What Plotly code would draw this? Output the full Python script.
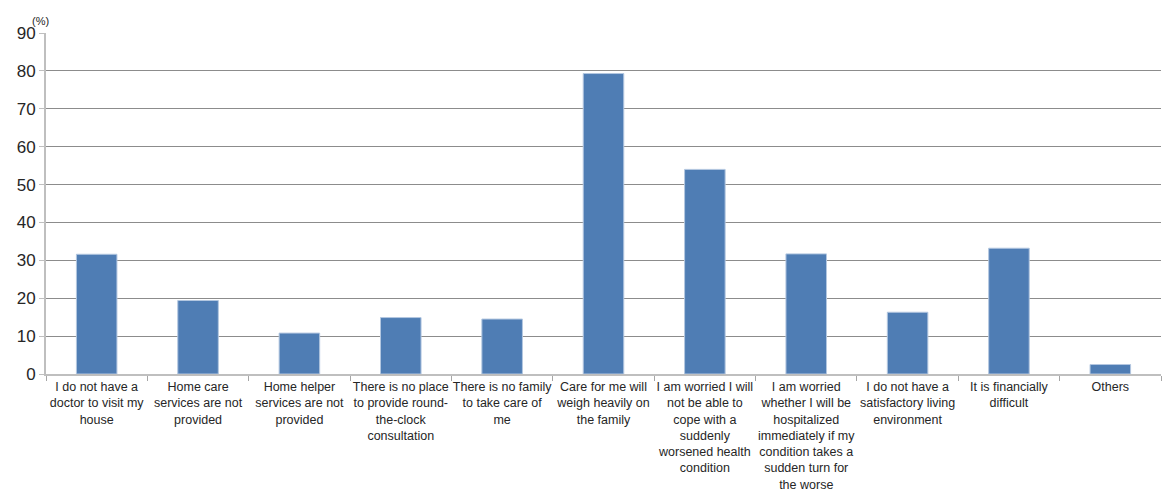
import plotly.graph_objects as go

categories = [
    "I do not have a<br>doctor to visit my<br>house",
    "Home care<br>services are not<br>provided",
    "Home helper<br>services are not<br>provided",
    "There is no place<br>to provide round-<br>the-clock<br>consultation",
    "There is no family<br>to take care of<br>me",
    "Care for me will<br>weigh heavily on<br>the family",
    "I am worried I will<br>not be able to<br>cope with a<br>suddenly<br>worsened health<br>condition",
    "I am worried<br>whether I will be<br>hospitalized<br>immediately if my<br>condition takes a<br>sudden turn for<br>the worse",
    "I do not have a<br>satisfactory living<br>environment",
    "It is financially<br>difficult",
    "Others",
]
values = [31.6, 19.4, 10.8, 14.9, 14.5, 79.3, 54.0, 31.7, 16.3, 33.2, 2.5]
y_ticks = [0, 10, 20, 30, 40, 50, 60, 70, 80, 90]

fig = go.Figure(
    go.Bar(
        x=categories,
        y=values,
        marker=dict(color="#4F7DB4", line=dict(color="#B3C7E0", width=1)),
    )
)

fig.update_layout(
    width=1163,
    height=501,
    margin=dict(l=46, r=2, t=33, b=127),
    plot_bgcolor="white",
    paper_bgcolor="white",
    bargap=0.6,
    showlegend=False,
    font=dict(family="Liberation Sans, Arial, sans-serif", color="#262626"),
    annotations=[
        dict(
            text="(%)",
            xref="paper",
            yref="paper",
            x=-0.005,
            y=1.0,
            xanchor="center",
            yanchor="bottom",
            yshift=4,
            showarrow=False,
            font=dict(size=11, color="#262626"),
        )
    ],
)

fig.update_xaxes(
    showline=True,
    linecolor="#BFBFBF",
    linewidth=2,
    ticks="outside",
    tickson="boundaries",
    ticklen=5,
    tickcolor="#A6A6A6",
    tickfont=dict(size=12.5, color="#262626"),
    tickangle=0,
)

fig.update_yaxes(
    range=[0, 90],
    tickvals=y_ticks,
    showgrid=True,
    gridcolor="#8C8C8C",
    gridwidth=1,
    showline=True,
    linecolor="#BFBFBF",
    linewidth=2,
    ticks="outside",
    ticklen=5,
    tickcolor="#BFBFBF",
    tickfont=dict(size=17, color="#262626"),
    zeroline=False,
)

fig.write_html("out.html")
